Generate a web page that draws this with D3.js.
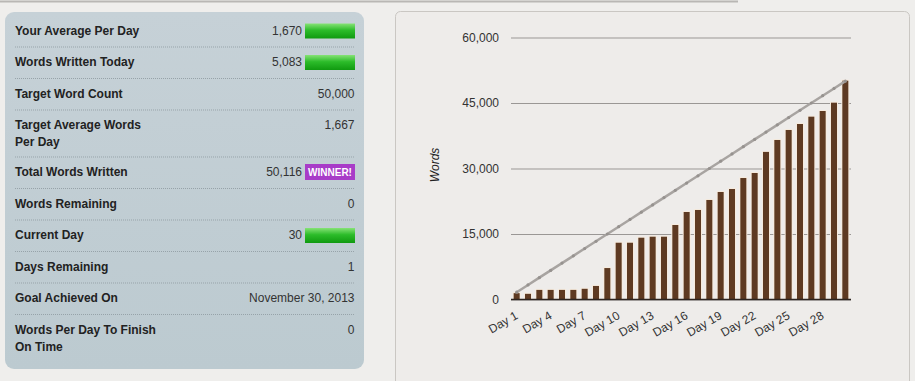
<!DOCTYPE html>
<html><head><meta charset="utf-8">
<script src="https://cdn.jsdelivr.net/npm/d3@7"></script>
<style>
html,body{margin:0;padding:0;background:#efeeec;}
svg{display:block;font-family:Arial,"Liberation Sans",sans-serif;}
</style></head>
<body>
<svg id="c" width="915" height="381"></svg>
<script>
// ---------- data ----------
const days = ["Day 1","Day 2","Day 3","Day 4","Day 5","Day 6","Day 7","Day 8","Day 9","Day 10",
  "Day 11","Day 12","Day 13","Day 14","Day 15","Day 16","Day 17","Day 18","Day 19","Day 20",
  "Day 21","Day 22","Day 23","Day 24","Day 25","Day 26","Day 27","Day 28","Day 29","Day 30"];
const wordsWritten = [1450,1300,2200,2200,2200,2200,2450,3100,7200,13000,
  13000,14150,14380,14380,17060,20040,20500,22790,24620,25300,
  27820,28970,33800,36530,38820,40190,41870,43170,45070,50116];
const targetWords = [1667,3333,5000,6667,8333,10000,11667,13333,15000,16667,
  18333,20000,21667,23333,25000,26667,28333,30000,31667,33333,
  35000,36667,38333,40000,41667,43333,45000,46667,48333,50000];
const yTicks = [0,15000,30000,45000,60000];
const xTickLabels = ["Day 1","Day 4","Day 7","Day 10","Day 13","Day 16","Day 19","Day 22","Day 25","Day 28"];

const statLabels = [["Your Average Per Day"],["Words Written Today"],["Target Word Count"],
  ["Target Average Words","Per Day"],["Total Words Written"],["Words Remaining"],["Current Day"],
  ["Days Remaining"],["Goal Achieved On"],["Words Per Day To Finish","On Time"]];
const statValues = ["1,670","5,083","50,000","1,667","50,116","0","30","1","November 30, 2013","0"];
const statBadges = ["bar","bar","","","winner","","bar","","",""];

// ---------- drawing ----------
const svg = d3.select("#c");
const defs = svg.append("defs");
const pg = defs.append("linearGradient").attr("id","panelG").attr("x1",0).attr("y1",0).attr("x2",0).attr("y2",1);
pg.append("stop").attr("offset","0%").attr("stop-color","#c6d1d7");
pg.append("stop").attr("offset","100%").attr("stop-color","#bccad0");
const gg = defs.append("linearGradient").attr("id","greenG").attr("x1",0).attr("y1",0).attr("x2",0).attr("y2",1);
gg.append("stop").attr("offset","0%").attr("stop-color","#86e276");
gg.append("stop").attr("offset","45%").attr("stop-color","#2cbc2a");
gg.append("stop").attr("offset","100%").attr("stop-color","#109a10");

// top border line
svg.append("line").attr("x1",0).attr("x2",738).attr("y1",1.5).attr("y2",1.5)
  .attr("stroke","#b9b7b4").attr("stroke-width",2);

// left stats panel
svg.append("rect").attr("x",5).attr("y",12).attr("width",359).attr("height",357)
  .attr("rx",9).attr("fill","url(#panelG)");

const rowTops = [];
let yy = 15.5;
statLabels.forEach(l => { rowTops.push(yy); yy += l.length > 1 ? 47 : 31.5; });

const rows = svg.append("g").selectAll("g").data(statLabels).join("g")
  .attr("transform",(d,i)=>`translate(0,${rowTops[i]})`);
rows.each(function(lines,i){
  const g = d3.select(this);
  lines.forEach((t,k)=>{
    g.append("text").attr("x",15).attr("y",19 + k*17).attr("font-size",12)
      .attr("font-weight","bold").attr("fill","#222").text(t);
  });
  const badge = statBadges[i];
  g.append("text").attr("x", badge ? 302 : 354.5).attr("y",19).attr("text-anchor","end")
    .attr("font-size",12).attr("fill","#333").text(statValues[i]);
  if (badge === "bar") {
    g.append("rect").attr("x",305).attr("y",8).attr("width",50).attr("height",15).attr("fill","url(#greenG)");
  } else if (badge === "winner") {
    g.append("rect").attr("x",305).attr("y",7).attr("width",50).attr("height",16).attr("fill","#a83cc8");
    g.append("text").attr("x",330).attr("y",18.5).attr("text-anchor","middle").attr("font-size",10)
      .attr("font-weight","bold").attr("fill","#fff").text("WINNER!");
  }
  if (i < statLabels.length - 1) {
    const h = lines.length > 1 ? 47 : 31.5;
    g.append("line").attr("x1",15).attr("x2",355).attr("y1",h).attr("y2",h)
      .attr("stroke","#97a3a9").attr("stroke-dasharray","1,1");
  }
});

// chart panel
svg.append("rect").attr("x",395.5).attr("y",11.5).attr("width",514).attr("height",385)
  .attr("rx",5).attr("fill","#eeecea").attr("stroke","#cac7c3");

const x = d3.scaleBand().domain(days).range([511,851]).paddingInner(0.47).paddingOuter(0.235);
const y = d3.scaleLinear().domain([0,60000]).range([299.5,37.5]);

// y axis with gridlines
const yAxis = svg.append("g").attr("transform","translate(511,0)")
  .call(d3.axisLeft(y).tickValues(yTicks).tickSize(-340).tickPadding(12).tickFormat(d3.format(",")));
yAxis.select(".domain").remove();
yAxis.selectAll(".tick line").attr("stroke","#9a9795").attr("stroke-width",1);
yAxis.selectAll(".tick text").attr("font-size",12).attr("fill","#333")
  .attr("font-family","Arial, 'Liberation Sans', sans-serif");

// y title
svg.append("text").attr("transform","translate(439,165) rotate(-90)").attr("text-anchor","middle")
  .attr("font-size",12).attr("font-style","italic").attr("fill","#222").text("Words");

// bars
const bw = x.bandwidth();
svg.append("g").selectAll("rect").data(wordsWritten).join("rect")
  .attr("x",(d,i)=>x(days[i])-1).attr("width",bw+2)
  .attr("y",d=>y(d)-1).attr("height",d=>y(0)-y(d)+1).attr("fill","#f6ebde");
svg.append("g").selectAll("rect").data(wordsWritten).join("rect")
  .attr("x",(d,i)=>x(days[i])).attr("width",bw)
  .attr("y",d=>y(d)).attr("height",d=>y(0)-y(d)).attr("fill","#5e3a22");

// baseline
svg.append("line").attr("x1",511).attr("x2",851).attr("y1",y(0)).attr("y2",y(0))
  .attr("stroke","#2e2520").attr("stroke-width",1.5);

// target line
const line = d3.line().x((d,i)=>x(days[i])+bw/2).y(d=>y(d));
svg.append("path").datum(targetWords).attr("d",line).attr("fill","none")
  .attr("stroke","#a8a4a1").attr("stroke-width",2.5);
svg.append("g").selectAll("circle").data(targetWords).join("circle")
  .attr("cx",(d,i)=>x(days[i])+bw/2).attr("cy",d=>y(d)).attr("r",1.6).attr("fill","#96928f");

// x labels
svg.append("g").selectAll("text").data(xTickLabels).join("text")
  .attr("transform",d=>`translate(${x(d)+bw/2+2},318) rotate(-30)`)
  .attr("text-anchor","end").attr("font-size",12).attr("fill","#333").text(d=>d);
</script>
</body></html>
